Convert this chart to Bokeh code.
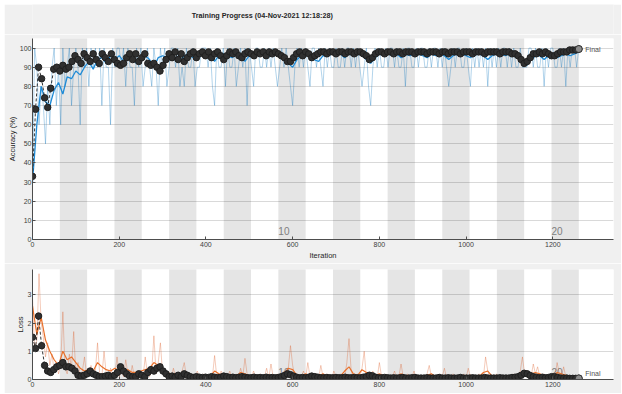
from bokeh.plotting import figure
from bokeh.layouts import column, row
from bokeh.models import Range1d, FixedTicker, Spacer
from bokeh.core.properties import value
from bokeh.embed import file_html
from bokeh.resources import INLINE

# ---------------- data ----------------
TITLE = "Training Progress (04-Nov-2021 12:18:28)"
EPOCHS = 20
ITERS_PER_EPOCH = 63
EPOCH_LABELS = [10, 20]
X_TICKS = [0, 200, 400, 600, 800, 1000, 1200]
ACC_TICKS = [0, 10, 20, 30, 40, 50, 60, 70, 80, 90, 100]
LOSS_TICKS = [0, 1, 2, 3]

RAW_STEP = 5      # raw mini-batch values, every 5 iterations
SMOOTH_STEP = 10  # smoothed values, every 10 iterations
VAL_STEP = 7      # validation values, every 7 iterations

train_acc_raw = [
    30, 100, 90, 60, 80, 70, 50, 80, 60, 90,
    100, 70, 90, 60, 100, 80, 90, 100, 70, 90,
    100, 90, 60, 100, 90, 100, 80, 100, 90, 100,
    90, 100, 70, 100, 90, 90, 60, 100, 90, 100,
    100, 90, 100, 80, 100, 90, 90, 70, 100, 90,
    100, 80, 90, 100, 90, 80, 100, 90, 70, 100,
    90, 100, 80, 90, 100, 100, 90, 100, 80, 90,
    80, 100, 90, 90, 100, 80, 90, 90, 100, 100,
    100, 90, 100, 80, 70, 100, 90, 90, 100, 80,
    100, 90, 90, 100, 80, 90, 100, 90, 100, 70,
    100, 90, 80, 100, 100, 90, 90, 100, 90, 100,
    90, 100, 90, 80, 90, 100, 90, 100, 90, 80,
    70, 90, 100, 90, 100, 90, 100, 90, 80, 100,
    100, 90, 100, 90, 80, 100, 90, 100, 90, 90,
    100, 90, 90, 100, 90, 100, 100, 90, 100, 90,
    100, 90, 80, 90, 100, 80, 70, 90, 100, 90,
    100, 90, 90, 100, 90, 100, 100, 90, 100, 90,
    90, 100, 80, 100, 100, 90, 90, 100, 90, 100,
    100, 90, 90, 100, 90, 100, 100, 90, 100, 90,
    100, 90, 80, 90, 100, 90, 100, 100, 90, 90,
    100, 90, 80, 100, 90, 100, 90, 100, 90, 100,
    80, 100, 90, 100, 90, 100, 90, 100, 100, 90,
    100, 90, 100, 90, 90, 100, 90, 90, 90, 100,
    100, 90, 100, 90, 90, 100, 80, 100, 90, 100,
    100, 90, 90, 100, 90, 100, 80, 100, 90, 100,
    100, 90, 100,
]

train_acc_smooth = [
    30, 60, 80, 72, 70, 78, 82, 76, 85, 84,
    88, 86, 90, 93, 89, 94, 95, 92, 96, 94,
    96, 93, 95, 94, 92, 95, 96, 94, 90, 95,
    96, 95, 97, 95, 93, 96, 97, 95, 96, 97,
    96, 97, 93, 96, 97, 96, 95, 97, 96, 93,
    96, 97, 96, 97, 95, 96, 97, 96, 95, 92,
    90, 94, 96, 97, 96, 94, 93, 96, 96, 97,
    96, 97, 95, 97, 96, 97, 96, 94, 92, 95,
    97, 96, 97, 96, 97, 95, 97, 96, 97, 97,
    96, 95, 97, 96, 97, 96, 94, 96, 97, 97,
    96, 95, 97, 97, 96, 94, 96, 97, 97, 96,
    97, 96, 95, 93, 91, 94, 96, 96, 94, 96,
    97, 95, 96, 97, 96, 97, 98,
]

val_acc = [
    33, 68, 90, 84, 74, 69, 79, 89, 90, 88,
    91, 89, 90, 93, 96, 94, 92, 97, 95, 93,
    97, 94, 92, 97, 95, 93, 97, 94, 92, 91,
    92, 95, 97, 94, 97, 93, 95, 97, 92, 91,
    92, 90, 88, 91, 94, 97, 95, 98, 94, 97,
    93, 95, 97, 98, 95, 97, 98, 96, 98, 95,
    97, 98, 96, 94, 96, 98, 97, 98, 96, 95,
    97, 98, 97, 96, 98, 97, 98, 96, 98, 97,
    98, 97, 96, 95, 93, 93, 95, 97, 98, 96,
    98, 97, 95, 96, 97, 98, 98, 97, 98, 98,
    97, 98, 98, 97, 98, 98, 97, 98, 98, 97,
    96, 94, 95, 97, 98, 98, 97, 98, 98, 97,
    98, 98, 97, 98, 98, 98, 97, 98, 98, 98,
    97, 98, 98, 98, 97, 98, 98, 97, 98, 98,
    98, 97, 98, 98, 98, 97, 98, 98, 98, 97,
    98, 98, 98, 98, 97, 98, 98, 98, 97, 97,
    96, 94, 92, 93, 95, 97, 97, 98, 97, 98,
    97, 96, 96, 97, 98, 98, 98, 99, 99, 99,
    99.5,
]

train_loss_raw = [
    2.9, 1.0, 1.4, 3.75, 2.0, 1.5, 0.8, 1.3, 0.5, 0.9,
    0.3, 0.6, 0.2, 0.5, 2.4, 0.4, 0.2, 0.9, 0.4, 1.7,
    0.2, 0.6, 0.1, 0.3, 0.8, 0.1, 0.2, 0.5, 0.1, 0.3,
    1.3, 0.2, 0.1, 1.0, 0.2, 0.1, 0.4, 0.1, 0.2, 0.8,
    0.1, 0.3, 0.1, 0.7, 0.2, 0.1, 0.5, 0.1, 0.2, 0.1,
    0.3, 0.1, 0.8, 0.2, 0.1, 0.3, 1.55, 0.2, 0.6, 1.3,
    0.2, 0.1, 0.3, 0.1, 0.05, 0.4, 0.1, 0.2, 0.1, 0.3,
    0.6, 0.1, 0.05, 0.2, 0.1, 0.05, 0.3, 0.1, 0.05, 0.2,
    0.1, 0.05, 0.2, 0.1, 0.85, 0.1, 0.05, 0.3, 0.1, 0.05,
    0.1, 0.3, 0.05, 0.1, 0.2, 0.05, 0.4, 0.1, 0.75, 0.2,
    0.05, 0.1, 0.3, 0.05, 0.1, 0.2, 0.05, 0.1, 0.4, 0.05,
    0.55, 0.1, 0.05, 0.2, 0.1, 0.05, 0.3, 0.1, 0.4, 1.2,
    0.5, 0.1, 0.2, 0.05, 0.1, 0.3, 0.05, 0.6, 0.1, 0.05,
    0.1, 0.2, 0.05, 0.5, 0.1, 0.05, 0.2, 0.1, 0.05, 0.3,
    0.1, 0.05, 0.2, 0.1, 0.05, 0.6, 1.45, 0.3, 0.1, 0.05,
    0.2, 0.1, 0.4, 1.0, 0.1, 0.05, 0.2, 0.3, 0.1, 0.05,
    0.6, 0.1, 0.05, 0.2, 0.1, 0.05, 0.1, 0.3, 0.05, 0.1,
    0.55, 0.1, 0.05, 0.2, 0.05, 0.1, 0.3, 0.05, 0.1, 0.05,
    0.1, 0.05, 0.2, 0.5, 0.1, 0.05, 0.1, 0.05, 0.2, 0.1,
    0.4, 0.05, 0.1, 0.05, 0.2, 0.05, 0.1, 0.05, 0.1, 0.2,
    0.05, 0.4, 0.1, 0.05, 0.1, 0.05, 0.2, 0.05, 0.1, 0.8,
    0.3, 0.05, 0.1, 0.05, 0.2, 0.05, 0.1, 0.05, 0.1, 0.05,
    0.1, 0.05, 0.2, 0.05, 0.1, 0.3, 0.8, 0.2, 0.1, 0.3,
    0.1, 0.55, 0.2, 0.45, 0.1, 0.05, 0.2, 0.1, 0.05, 0.1,
    0.05, 0.1, 0.6, 0.2, 0.1, 0.45, 0.1, 0.05, 0.1, 0.05,
    0.1, 0.05, 0.05,
]

train_loss_smooth = [
    2.6, 1.6, 2.2, 1.4, 1.0, 0.7, 0.5, 1.0, 0.7, 0.8,
    0.6, 0.4, 0.3, 0.35, 0.3, 0.6, 0.45, 0.35, 0.3, 0.4,
    0.3, 0.3, 0.35, 0.25, 0.25, 0.3, 0.35, 0.4, 0.6, 0.5,
    0.35, 0.25, 0.2, 0.2, 0.15, 0.25, 0.2, 0.15, 0.15, 0.12,
    0.1, 0.12, 0.3, 0.2, 0.12, 0.1, 0.15, 0.12, 0.25, 0.2,
    0.12, 0.1, 0.15, 0.12, 0.1, 0.15, 0.12, 0.1, 0.2, 0.4,
    0.35, 0.15, 0.12, 0.2, 0.12, 0.1, 0.12, 0.2, 0.1, 0.12,
    0.1, 0.12, 0.3, 0.45, 0.2, 0.15, 0.35, 0.25, 0.15, 0.12,
    0.2, 0.12, 0.1, 0.12, 0.1, 0.2, 0.12, 0.1, 0.12, 0.08,
    0.1, 0.15, 0.2, 0.1, 0.08, 0.1, 0.15, 0.1, 0.08, 0.1,
    0.12, 0.15, 0.1, 0.1, 0.25, 0.3, 0.12, 0.1, 0.1, 0.08,
    0.1, 0.1, 0.12, 0.25, 0.3, 0.2, 0.25, 0.2, 0.12, 0.1,
    0.1, 0.25, 0.2, 0.15, 0.1, 0.08, 0.07,
]

val_loss = [
    1.5, 1.1, 2.25, 1.2, 0.5, 0.3, 0.25, 0.35, 0.45, 0.5,
    0.6, 0.45, 0.45, 0.4, 0.3, 0.15, 0.12, 0.15, 0.2, 0.3,
    0.2, 0.15, 0.1, 0.1, 0.12, 0.15, 0.1, 0.15, 0.25, 0.45,
    0.3, 0.2, 0.12, 0.1, 0.1, 0.2, 0.15, 0.1, 0.25, 0.35,
    0.3, 0.4, 0.45, 0.3, 0.2, 0.1, 0.12, 0.08, 0.15, 0.1,
    0.2, 0.15, 0.1, 0.07, 0.1, 0.08, 0.07, 0.08, 0.07, 0.1,
    0.08, 0.07, 0.08, 0.12, 0.1, 0.07, 0.08, 0.06, 0.08, 0.1,
    0.08, 0.06, 0.06, 0.08, 0.06, 0.07, 0.06, 0.08, 0.06, 0.07,
    0.06, 0.07, 0.1, 0.14, 0.2, 0.17, 0.12, 0.08, 0.06, 0.07,
    0.06, 0.08, 0.12, 0.1, 0.08, 0.06, 0.06, 0.07, 0.06, 0.06,
    0.07, 0.06, 0.06, 0.08, 0.06, 0.06, 0.07, 0.06, 0.06, 0.08,
    0.1, 0.15, 0.13, 0.08, 0.06, 0.06, 0.07, 0.06, 0.05, 0.06,
    0.05, 0.06, 0.07, 0.05, 0.05, 0.06, 0.07, 0.05, 0.05, 0.05,
    0.06, 0.05, 0.05, 0.05, 0.07, 0.05, 0.05, 0.06, 0.05, 0.05,
    0.05, 0.07, 0.05, 0.05, 0.05, 0.06, 0.05, 0.05, 0.05, 0.07,
    0.05, 0.05, 0.05, 0.05, 0.06, 0.05, 0.05, 0.05, 0.07, 0.08,
    0.1, 0.15, 0.22, 0.2, 0.14, 0.1, 0.08, 0.06, 0.08, 0.06,
    0.07, 0.1, 0.1, 0.07, 0.05, 0.05, 0.05, 0.04, 0.04, 0.04,
    0.04,
]

it_raw = [i * RAW_STEP for i in range(len(train_acc_raw))]
it_smooth = [i * SMOOTH_STEP for i in range(len(train_acc_smooth))]
it_val = [i * VAL_STEP for i in range(len(val_acc))]
final_it = EPOCHS * ITERS_PER_EPOCH

# ---------------- style ----------------
FONT = "Liberation Sans"
BG = "#f0f0f0"
TXT = "#262626"
AX = "#4d4d4d"
W = 617


def make_fig(height, yr, yticks, ylabel, xlabel, mb_top, mb_bottom):
    p = figure(width=W, height=height, x_range=Range1d(0, 1340), y_range=yr,
               output_backend="svg", toolbar_location=None,
               min_border_left=27, min_border_right=8,
               min_border_top=mb_top, min_border_bottom=mb_bottom,
               border_fill_color=BG, background_fill_color="white",
               outline_line_color=None)
    p.xaxis.ticker = FixedTicker(ticks=X_TICKS)
    p.yaxis.ticker = FixedTicker(ticks=yticks)
    for ax in p.axis:
        ax.axis_line_color = AX
        ax.major_tick_line_color = AX
        ax.major_tick_in = 3
        ax.major_tick_out = 0
        ax.minor_tick_line_color = None
        ax.major_label_text_font = FONT
        ax.major_label_text_font_size = "7px"
        ax.major_label_text_color = "#404040"
        ax.major_label_standoff = 2
        ax.axis_label_text_font = FONT
        ax.axis_label_text_font_size = "7.5px"
        ax.axis_label_text_font_style = "normal"
        ax.axis_label_text_color = TXT
        ax.axis_label_standoff = 1
    p.yaxis.major_label_standoff = 1
    p.yaxis.axis_label_standoff = 0
    p.yaxis.axis_label = ylabel
    if xlabel:
        p.xaxis.axis_label = xlabel
    p.xgrid.grid_line_color = None
    p.ygrid.grid_line_color = "#d9d9d9"
    p.ygrid.grid_line_width = 1
    # alternating epoch shading
    lefts = [e * ITERS_PER_EPOCH for e in range(1, EPOCHS, 2)]
    rights = [(e + 1) * ITERS_PER_EPOCH for e in range(1, EPOCHS, 2)]
    p.quad(left=lefts, right=rights, bottom=-1000, top=1000,
           fill_color="black", fill_alpha=0.1, line_color=None)
    return p


# ---------- header (title strip) ----------
head = figure(width=W, height=30, x_range=Range1d(0, W), y_range=Range1d(0, 30),
              output_backend="svg", toolbar_location=None, min_border=0,
              x_axis_type=None, y_axis_type=None,
              border_fill_color=BG, background_fill_color=BG, outline_line_color=None)
head.xgrid.grid_line_color = None
head.ygrid.grid_line_color = None
head.text(x=[244], y=[19], text=[TITLE], text_font=value(FONT), text_font_size="7.2px",
          text_font_style="bold", text_color=TXT, text_align="center", text_baseline="middle")

# ---------- accuracy ----------
p1 = make_fig(229, Range1d(0, 105), ACC_TICKS, "Accuracy (%)", "Iteration", 4, 24)
p1.text(x=[(e - 1) * ITERS_PER_EPOCH for e in EPOCH_LABELS], y=[2.5] * len(EPOCH_LABELS),
        text=[str(e) for e in EPOCH_LABELS], text_font=value(FONT), text_font_size="10px",
        text_color="#808080", text_baseline="bottom", text_align="left")
p1.line(it_raw, train_acc_raw, line_color="#0072BD", line_alpha=0.3, line_width=1)
p1.line(it_smooth, train_acc_smooth, line_color="#1f8bd6", line_width=1.3)
p1.line(it_val, val_acc, line_color="black", line_width=0.8, line_dash="3 2")
p1.scatter(it_val, val_acc, size=6.5, fill_color="#303030", line_color="#202020")
p1.scatter([final_it], [val_acc[-1]], size=7, fill_color="#8c8c8c", line_color="#303030")
p1.text(x=[final_it + 15], y=[val_acc[-1]], text=["Final"], text_font=value(FONT),
        text_font_size="7px", text_color="#505050", text_baseline="middle")

# ---------- loss ----------
p2 = make_fig(130, Range1d(0, 3.9), LOSS_TICKS, "Loss", None, 6, 14)
p2.text(x=[(e - 1) * ITERS_PER_EPOCH for e in EPOCH_LABELS], y=[0.13] * len(EPOCH_LABELS),
        text=[str(e) for e in EPOCH_LABELS], text_font=value(FONT), text_font_size="10px",
        text_color="#808080", text_baseline="bottom", text_align="left")
p2.line(it_raw, train_loss_raw, line_color="#D95319", line_alpha=0.3, line_width=1)
p2.line(it_smooth, train_loss_smooth, line_color="#e8702a", line_width=1.2)
p2.line(it_val, val_loss, line_color="black", line_width=0.8, line_dash="3 2")
p2.scatter(it_val, val_loss, size=6.5, fill_color="#303030", line_color="#202020")
p2.scatter([final_it], [val_loss[-1]], size=7, fill_color="#8c8c8c", line_color="#303030")
p2.text(x=[final_it + 15], y=[0.2], text=["Final"], text_font=value(FONT),
        text_font_size="7px", text_color="#505050", text_baseline="middle")

layout = row(Spacer(width=4, height=393),
             column(Spacer(width=W, height=4), head, p1, p2, spacing=0),
             spacing=0)
open("out.html", "w").write(file_html(layout, INLINE))
